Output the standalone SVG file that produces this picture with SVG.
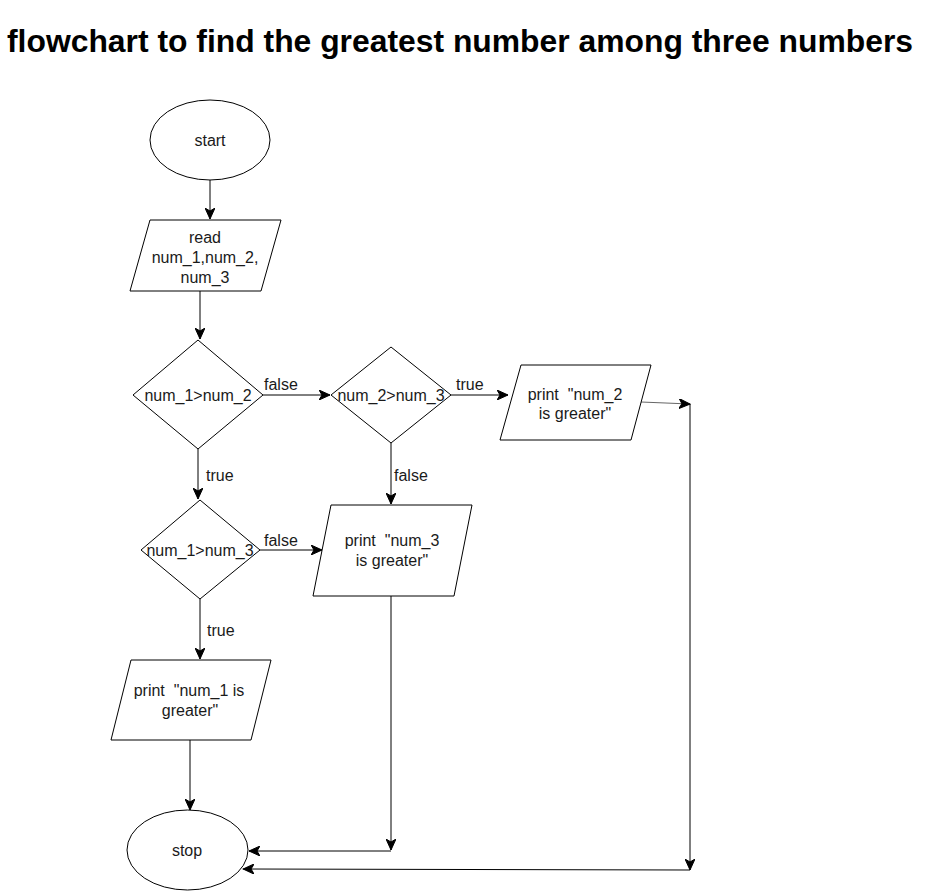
<svg xmlns="http://www.w3.org/2000/svg" width="941" height="891" viewBox="0 0 941 891">
<defs>
<marker id="arr" markerUnits="userSpaceOnUse" markerWidth="12" markerHeight="10" viewBox="0 0 12 10" refX="11" refY="5" orient="auto">
<path d="M0,0 L11,5 L0,10 L3,5 Z" fill="#000" stroke="#000" stroke-width="1"/>
</marker>
</defs>
<style>
.shape{fill:#fff;stroke:#000;stroke-width:1}
.lbl{font-family:"Liberation Sans",Arial,sans-serif;font-size:16px;fill:#1a1a1a;text-anchor:middle;white-space:pre}
.elbl{font-family:"Liberation Sans",Arial,sans-serif;font-size:16px;fill:#1a1a1a}
.edge{fill:none;stroke:#000;stroke-width:1;marker-end:url(#arr)}
.title{font-family:"Liberation Sans",Arial,sans-serif;font-size:31px;font-weight:bold;fill:#000}
</style>
<rect width="941" height="891" fill="#fff"/>
<text class="title" x="7" y="52" textLength="906" lengthAdjust="spacingAndGlyphs">flowchart to find the greatest number among three numbers</text>

<g id="connectors">
<path class="edge" d="M210,180 L210,219"/>
<path class="edge" d="M200,291 L200,339"/>
<path class="edge" d="M263,395 L330,395"/>
<path class="edge" d="M451,395 L508,395"/>
<path class="edge" d="M641,402 L690,404" style="stroke:#666"/>
<path class="edge" d="M690,404 L690,870"/>
<path class="edge" d="M690,870 L243,869"/>
<path class="edge" d="M198,449 L198,499"/>
<path class="edge" d="M391,443 L391,504"/>
<path class="edge" d="M260,550 L322,550"/>
<path class="edge" d="M200,599 L200,659"/>
<path class="edge" d="M391,596 L391,850"/>
<path class="edge" d="M391,851 L249,851"/>
<path class="edge" d="M190,740 L190,810"/>
<text class="elbl" x="264" y="390">false</text>
<text class="elbl" x="456" y="390">true</text>
<text class="elbl" x="206" y="481">true</text>
<text class="elbl" x="394" y="481">false</text>
<text class="elbl" x="264" y="546">false</text>
<text class="elbl" x="207" y="636">true</text>
</g>

<g id="start">
<ellipse class="shape" cx="210" cy="140" rx="60" ry="40"/>
<text class="lbl" x="210" y="146">start</text>
</g>

<g id="read">
<polygon class="shape" points="150,220 281,220 261,291 130,291"/>
<text class="lbl" x="205" y="243">read</text>
<text class="lbl" x="205" y="263">num_1,num_2,</text>
<text class="lbl" x="205" y="283">num_3</text>
</g>

<g id="cond1">
<polygon class="shape" points="198,340 263,395 198,449 133,395"/>
<text class="lbl" x="198" y="401">num_1&gt;num_2</text>
</g>

<g id="cond2">
<polygon class="shape" points="391,347 451,395 391,443 331,395"/>
<text class="lbl" x="391" y="401">num_2&gt;num_3</text>
</g>

<g id="print2">
<polygon class="shape" points="521,365 651,365 631,440 500,440"/>
<text class="lbl" x="575" y="400" xml:space="preserve">print  "num_2</text>
<text class="lbl" x="575" y="419">is greater"</text>
</g>

<g id="cond3">
<polygon class="shape" points="200,500 260,550 200,599 141,550"/>
<text class="lbl" x="200" y="556">num_1&gt;num_3</text>
</g>

<g id="print3">
<polygon class="shape" points="331,505 472,505 454,596 313,596"/>
<text class="lbl" x="392" y="546" xml:space="preserve">print  "num_3</text>
<text class="lbl" x="392" y="566">is greater"</text>
</g>

<g id="print1">
<polygon class="shape" points="131,660 271,660 251,740 111,740"/>
<text class="lbl" x="189" y="696" xml:space="preserve">print  "num_1 is</text>
<text class="lbl" x="190" y="716">greater"</text>
</g>

<g id="stop">
<ellipse class="shape" cx="187.5" cy="850" rx="60.5" ry="40"/>
<text class="lbl" x="187" y="856">stop</text>
</g>
</svg>
